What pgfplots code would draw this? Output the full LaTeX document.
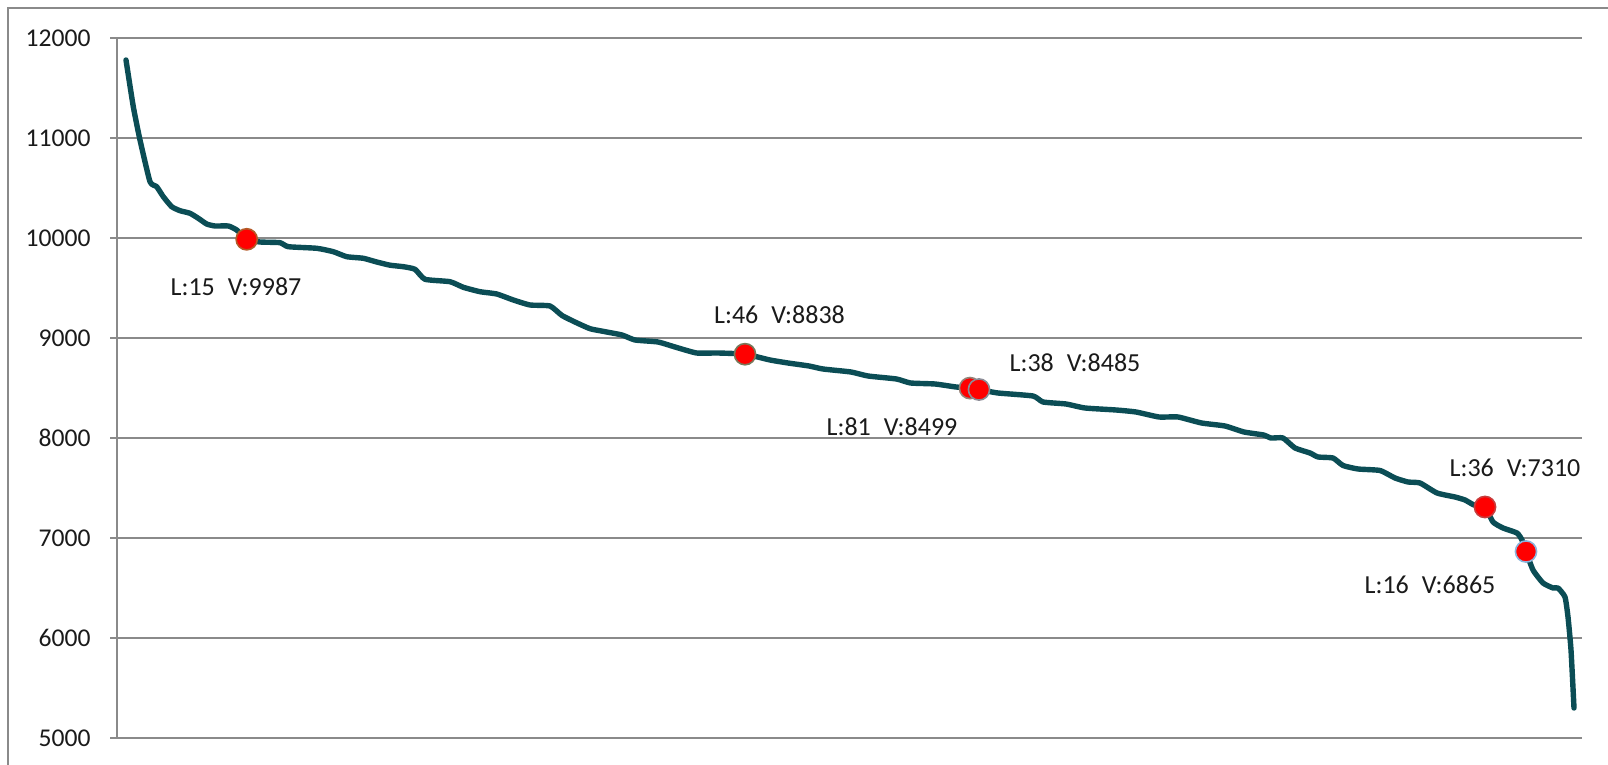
\documentclass[border=0pt]{standalone}
\usepackage{fontspec}
\setmainfont{Carlito}
\usepackage{pgfplots}
\usepackage{pgfplotstable}
\pgfplotsset{compat=1.18}
\definecolor{lineteal}{HTML}{0B4D55}
\definecolor{gridgray}{HTML}{8A8A8A}
\definecolor{txt}{HTML}{1A1A1A}
\definecolor{mkred}{HTML}{FF0000}
\pgfplotstableread{
x v
9 11780
16.3 11313
23 10980
33 10563
39.7 10513
46.3 10413
54.7 10313
63 10273
73 10247
81.3 10197
89.7 10140
98 10120
111.3 10120
119.7 10080
129.7 9987
143 9960
163 9953
171.3 9913
199.7 9897
216.3 9863
229.7 9813
246.3 9797
259.7 9760
273 9728
286.3 9713
298 9687
308 9587
333 9563
346.3 9507
363 9463
379.7 9440
396.3 9380
413 9330
433 9320
445 9225
459 9155
473 9093
487 9065
505 9030
518 8980
541 8960
558 8910
579.5 8850
600.5 8850
628 8838
653 8780
671 8750
692 8720
706 8690
734 8660
751 8620
779.5 8590
793.5 8550
818 8540
839 8510
853 8499
862 8485
881 8450
916 8420
926 8360
949 8340
968 8300
999 8280
1019 8260
1042 8210
1061 8210
1084.5 8150
1108 8120
1127 8060
1146.5 8030
1154 8000
1166 8000
1178 7900
1193 7850
1201 7810
1216 7800
1226 7725
1241 7690
1263 7675
1278 7600
1291 7560
1303 7550
1320 7450
1338 7410
1348 7380
1357 7330
1368 7310
1376 7160
1386 7100
1400 7050
1405 6980
1409 6865
1416 6680
1426 6550
1436 6500
1441 6500
1448 6410
1451 6210
1454 5880
1457 5300
}\curvedata
\newcommand{\lblfont}{\fontsize{13}{15}\selectfont}
\begin{document}
\begin{tikzpicture}[x=1pt,y=1pt]
\useasboundingbox (0,0) rectangle (804,382.5);
\draw[gridgray, line width=1pt] (4,-20) -- (4,378.5) -- (830,378.5);
\begin{axis}[
  at={(58.5pt,13.5pt)}, anchor=south west,
  scale only axis, width=732.5pt, height=350pt,
  xmin=0, xmax=1465, ymin=5000, ymax=12000,
  ytick={5000,6000,...,12000}, xtick=\empty,
  scaled y ticks=false,
  yticklabel={\pgfmathprintnumber[fixed,precision=0,1000 sep={},assume math mode=true]{\tick}},
  ymajorgrids, grid style={gridgray, line width=0.75pt},
  axis x line*=bottom, axis y line*=left,
  axis line style={gridgray, line width=0.75pt, -},
  tick align=outside, major tick length=3.5pt,
  tick style={gridgray, line width=0.75pt},
  yticklabel style={font=\fontsize{12.8}{14}\selectfont, text=txt, inner sep=0pt, anchor=east, xshift=-9.5pt},
  clip=false,
]
\addplot[lineteal, line width=2.7pt, smooth, tension=0.3, line cap=round, line join=round] table[x=x, y=v] {\curvedata};
\addplot[only marks, mark=*, mark size=5.3pt, mark options={fill=mkred, draw={rgb,255:red,180;green,90;blue,40}, line width=0.8pt}] coordinates {(129.7,9987)};
\addplot[only marks, mark=*, mark size=5.3pt, mark options={fill=mkred, draw={rgb,255:red,120;green,120;blue,90}, line width=0.8pt}] coordinates {(628,8838)};
\addplot[only marks, mark=*, mark size=5.3pt, mark options={fill=mkred, draw={rgb,255:red,150;green,130;blue,120}, line width=0.8pt}] coordinates {(853,8499)};
\addplot[only marks, mark=*, mark size=5.3pt, mark options={fill=mkred, draw={rgb,255:red,140;green,140;blue,150}, line width=0.8pt}] coordinates {(862,8485)};
\addplot[only marks, mark=*, mark size=5.3pt, mark options={fill=mkred, draw={rgb,255:red,200;green,60;blue,60}, line width=0.8pt}] coordinates {(1368,7310)};
\addplot[only marks, mark=*, mark size=5.3pt, mark options={fill=mkred, draw={rgb,255:red,140;green,180;blue,220}, line width=0.8pt}] coordinates {(1409,6865)};
\node[font=\lblfont, text=txt] at (axis cs:119,9510) {L:15\hspace{0.5em}V:9987};
\node[font=\lblfont, text=txt] at (axis cs:662.5,9230) {L:46\hspace{0.5em}V:8838};
\node[font=\lblfont, text=txt] at (axis cs:775,8110) {L:81\hspace{0.5em}V:8499};
\node[font=\lblfont, text=txt] at (axis cs:958,8750) {L:38\hspace{0.5em}V:8485};
\node[font=\lblfont, text=txt] at (axis cs:1398,7700) {L:36\hspace{0.5em}V:7310};
\node[font=\lblfont, text=txt] at (axis cs:1313,6530) {L:16\hspace{0.5em}V:6865};
\end{axis}
\end{tikzpicture}
\end{document}
